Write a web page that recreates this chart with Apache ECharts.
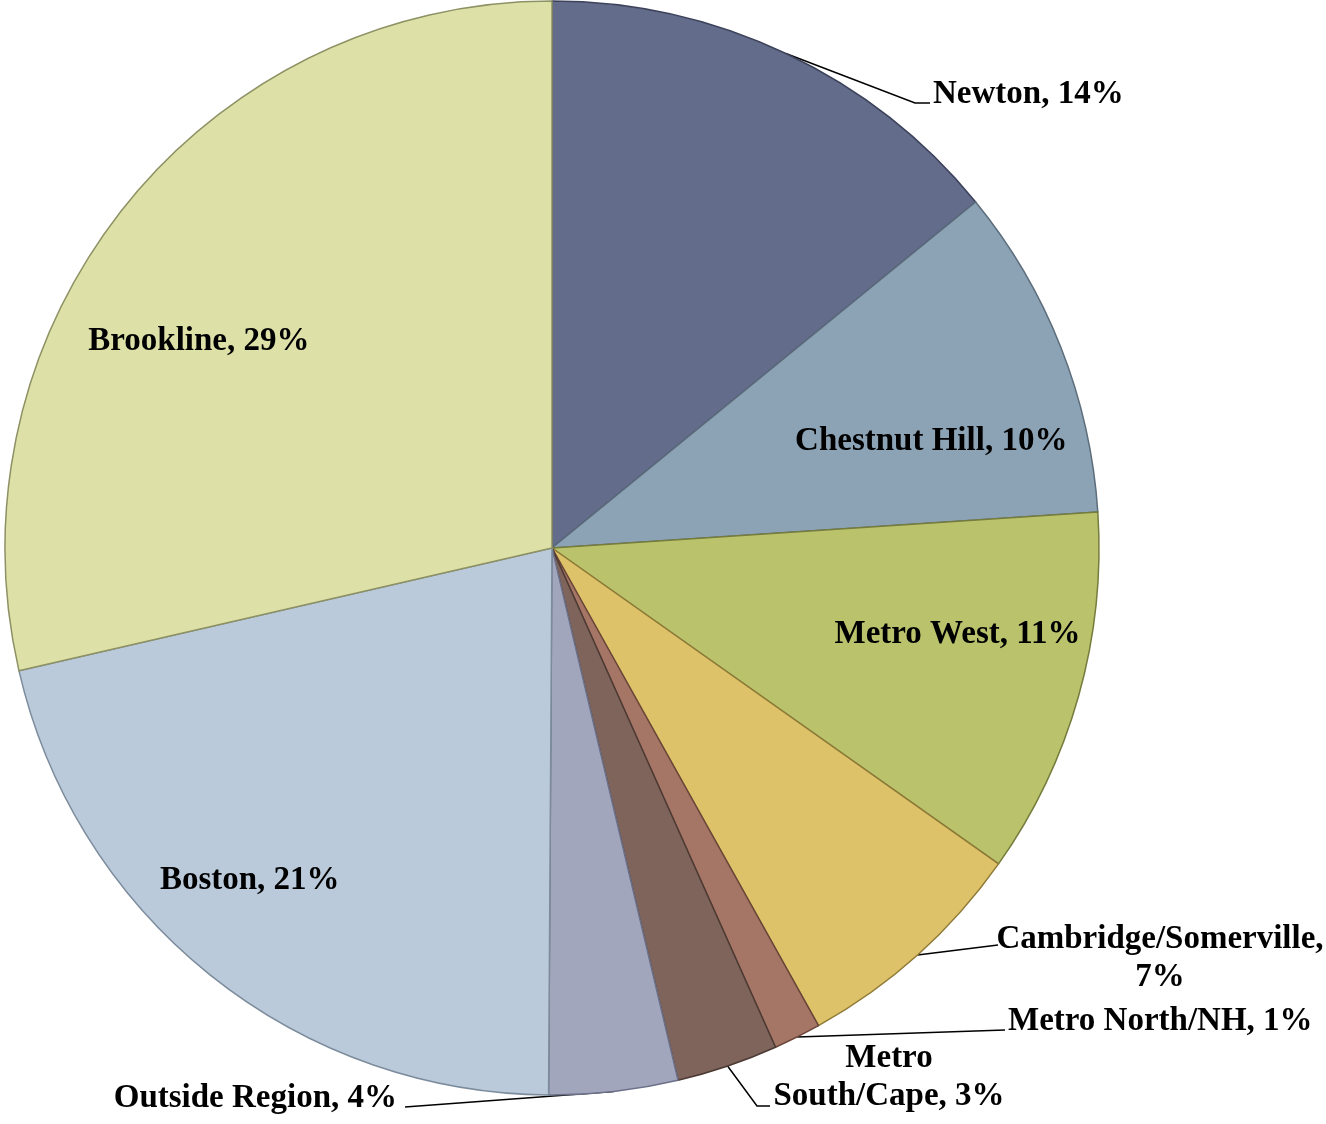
<!DOCTYPE html>
<html>
<head>
<meta charset="utf-8">
<script src="https://cdn.jsdelivr.net/npm/echarts@6/dist/echarts.min.js"></script>
<style>
  html, body { margin: 0; background: #fff; }
  #chart { width: 1326px; height: 1124px; }
</style>
</head>
<body>
<div id="chart"></div>
<script>
// Patient origin by region (share of total, %)
const regions = ['Newton', 'Chestnut Hill', 'Metro West', 'Cambridge/Somerville',
    'Metro North/NH', 'Metro South/Cape', 'Outside Region', 'Boston', 'Brookline'];
const shares = [14.1, 9.85, 10.85, 7.1, 1.4, 3.0, 3.8, 21.3, 28.6];
const insideLabels = ['Chestnut Hill', 'Metro West', 'Boston', 'Brookline'];

const fills = ['#646c8c', '#8ca3b5', '#bac36c', '#dec26a', '#a57565',
               '#7f645b', '#a2a6bd', '#bacada', '#dde1a7'];
const edges = ['#3c425a', '#5c6d7b', '#767c3c', '#8e7a36', '#6a463a',
               '#4c3a34', '#6c7088', '#7c8c9c', '#8d9163'];

// callout placement for the small slices (label anchor + leader bends)
const callouts = {
    'Newton': { x: 933, y: 94, align: 'left', bend: [[915, 103], [930, 103]] },
    'Cambridge/Somerville': { x: 1160, y: 958, align: 'center', wrap: ', ', bend: [[998, 945]] },
    'Metro North/NH': { x: 1008, y: 1021, align: 'left', bend: [[1005, 1030]] },
    'Metro South/Cape': { x: 889, y: 1077, align: 'center', wrap: 'Metro ', bend: [[757, 1106], [770, 1106]] },
    'Outside Region': { x: 397, y: 1098, align: 'right', bend: [[405, 1107]] },
};
// small shifts of the in-slice labels, as the original has them
const nudges = {
    'Brookline': [-30, 51],
    'Chestnut Hill': [-5, 45],
    'Metro West': [8, -26],
    'Boston': [-44, 10],
};

const font = { fontFamily: 'Liberation Serif', fontWeight: 'bold', fontSize: 33, color: '#000' };

function labelText(p) {
    let t = p.name + ', ' + Math.round(p.percent) + '%';
    const c = callouts[p.name];
    if (c && c.wrap) t = t.replace(c.wrap, c.wrap.trimEnd() + '\n');
    return t;
}

const pieData = regions.map((name, i) => ({
    name: name,
    value: shares[i],
    itemStyle: { color: fills[i], borderColor: edges[i] },
    label: { show: !!callouts[name] },
    labelLine: { show: !!callouts[name] },
}));

const tagData = regions.map((name, i) => ({
    name: name,
    value: shares[i],
    label: { show: insideLabels.includes(name) },
}));

const chart = echarts.init(document.getElementById('chart'));
chart.setOption({
    animation: false,
    backgroundColor: '#fff',
    series: [{
        type: 'pie',
        center: [552, 548],
        radius: [0, 547],
        startAngle: 90,
        avoidLabelOverlap: false,
        itemStyle: { borderWidth: 1.5 },
        label: Object.assign({ position: 'outside', formatter: labelText, lineHeight: 38 }, font),
        labelLine: { lineStyle: { color: '#000', width: 1.5 } },
        emphasis: { disabled: true },
        labelLayout: function (params) {
            const c = callouts[regions[params.dataIndex]];
            if (!c) return {};
            const start = params.labelLinePoints ? params.labelLinePoints[0] : null;
            return {
                x: c.x, y: c.y, align: c.align, verticalAlign: 'middle',
                labelLinePoints: start ? [start].concat(c.bend) : undefined,
            };
        },
        data: pieData,
    }, {
        type: 'pie',
        center: [552, 548],
        radius: [273, 547],
        startAngle: 90,
        silent: true,
        z: 3,
        itemStyle: { color: 'transparent', borderWidth: 0 },
        label: Object.assign({ position: 'inside', formatter: labelText }, font),
        labelLine: { show: false },
        emphasis: { disabled: true },
        labelLayout: function (params) {
            const n = nudges[regions[params.dataIndex]];
            return n ? { dx: n[0], dy: n[1] } : {};
        },
        data: tagData,
    }],
});
</script>
</body>
</html>
